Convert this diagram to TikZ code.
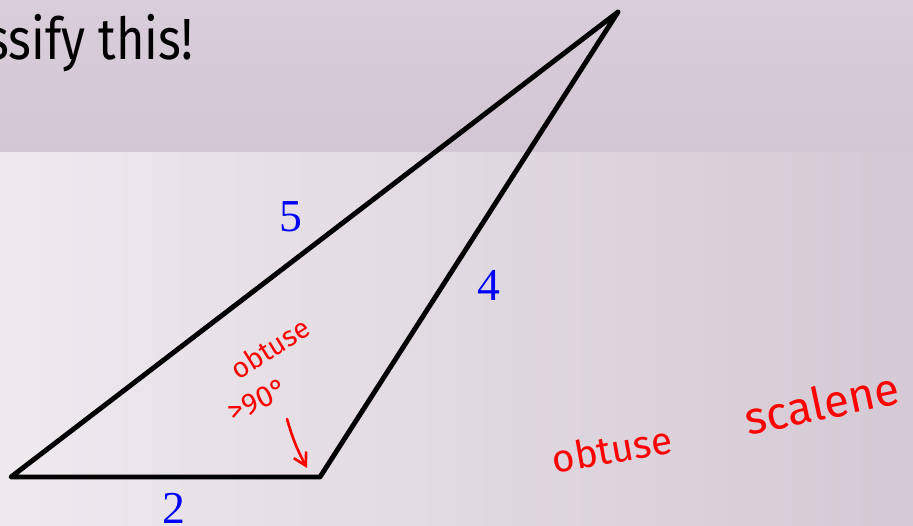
\documentclass[tikz,border=0pt]{standalone}
\usepackage{fontspec}
\setmainfont{Liberation Serif}
\newfontfamily\handfont{Fira Sans}
\usetikzlibrary{arrows.meta}

\definecolor{bandtop}{RGB}{216,206,217}
\definecolor{bandmid}{RGB}{228,222,228}
\definecolor{bandlow}{RGB}{210,198,210}
\definecolor{pageleft}{RGB}{238,234,238}
\definecolor{pageright}{RGB}{212,201,212}

\tikzset{
  side/.style={blue, font=\fontsize{26}{30}\selectfont},
  ink/.style={red, inner sep=0pt, font=\handfont\fontsize{#1}{#1}\selectfont},
  ink/.default=22,
  inkline/.style={red, line width=1.5pt, line cap=round, -{Straight Barb[length=7pt,width=8pt]}}
}

\begin{document}
\begin{tikzpicture}[x=0.02cm,y=-0.02cm]
  \useasboundingbox (0,0) rectangle (913,526);
  \shade[top color=bandtop, middle color=bandmid, bottom color=bandlow] (0,0) rectangle (913,153);
  \shade[left color=pageleft, right color=pageright] (0,153) rectangle (913,526);

  \node[anchor=base east, xscale=0.84, font=\handfont\fontsize{33}{36}\selectfont] (title) at (198,60) {Classify this!};

  \coordinate (A) at (11,477);
  \coordinate (B) at (320,477);
  \coordinate (C) at (618,12);
  \draw[line width=2.8pt, line join=round] (A) -- (B) -- (C) -- cycle;

  \node[side] (s5) at (291,217) {5};
  \node[side] (s4) at (489,285) {4};
  \node[side] (s2) at (174,508) {2};

  \node[ink=16, rotate=32] (ob1) at (270,348) {obtuse};
  \node[ink=17, rotate=25] (gt) at (258,400) {>90°};
  \coordinate (tail) at (287,419);
  \coordinate (tip) at (307,468);
  \draw[inkline] (tail) to[bend right=6] (tip);

  \node[ink=22, rotate=10] (ob2) at (612,449) {obtuse};
  \node[ink=26, rotate=12] (sc) at (822,403) {scalene};
\end{tikzpicture}
\end{document}
